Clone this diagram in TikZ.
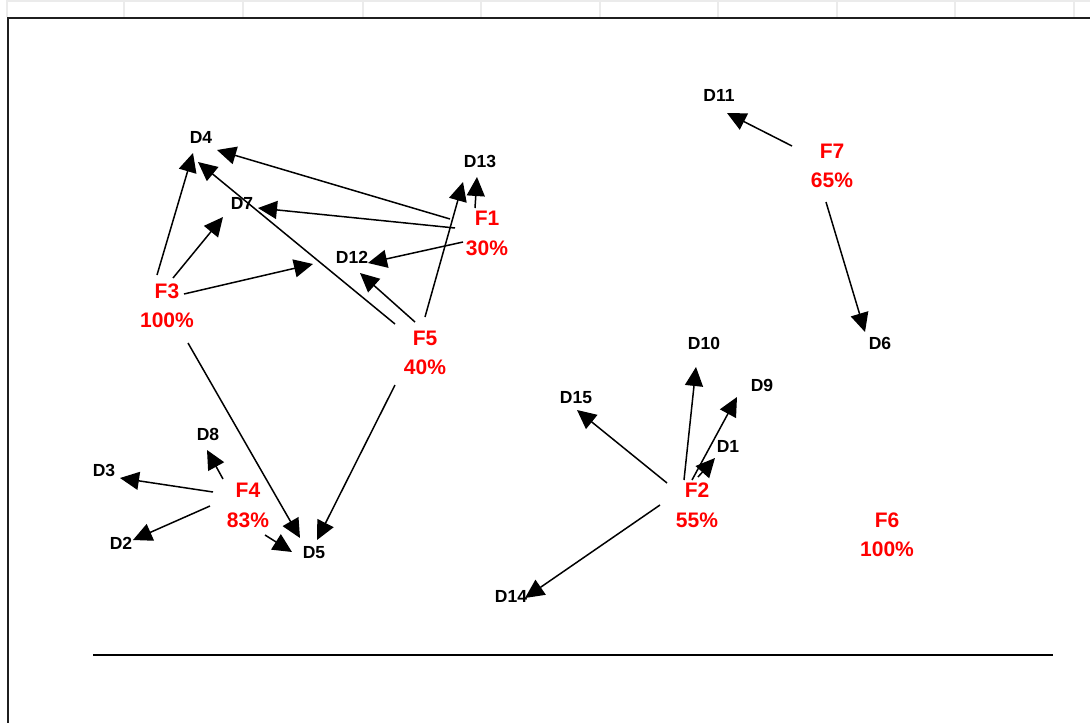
\documentclass[tikz,border=0pt]{standalone}
\usepackage{fontspec}
\setmainfont{Liberation Sans}
\usetikzlibrary{arrows.meta,calc}
\begin{document}
\begin{tikzpicture}[x=1pt,y=-1pt,
  dlab/.style={inner sep=0pt,font=\fontsize{17.5}{20}\selectfont\bfseries,text=black},
  flab/.style={inner sep=0pt,align=center,font=\fontsize{21}{29.5}\selectfont\bfseries,text=red},
  arr/.style={line width=1.5pt,-{Triangle[length=19pt,width=18pt]}},
  gridln/.style={line width=1.5pt,draw=black!8}]
\useasboundingbox (0,0) rectangle (1090,723);
% top grid
\draw[gridln] (7,1) -- (1090,1);
\foreach \gx in {7,124,243,363,481,600,718,837,955,1074}{\draw[gridln] (\gx,0) -- (\gx,17);}
% frame
\draw[line width=2.2pt,draw=black!88] (1090,18) -- (8,18) -- (8,723);
\draw[line width=1.3pt] (93,655) -- (1053,655);
% D nodes
\node[dlab] (d4) at (201,137) {D4};
\node[dlab] (d13) at (480,161) {D13};
\node[dlab] (d7) at (242,203) {D7};
\node[dlab] (d12) at (352,257) {D12};
\node[dlab] (d10) at (704,343) {D10};
\node[dlab] (d6) at (880,343) {D6};
\node[dlab] (d9) at (762,385) {D9};
\node[dlab] (d15) at (576,398) {D15};
\node[dlab] (d8) at (208,434) {D8};
\node[dlab] (d1) at (728,446) {D1};
\node[dlab] (d3) at (104,470) {D3};
\node[dlab] (d2) at (121,543) {D2};
\node[dlab] (d5) at (314,553) {D5};
\node[dlab] (d14) at (511,596) {D14};
\node[dlab] (d11) at (719,95) {D11};
% F nodes
\node[flab] (f1) at (487,233.5) {F1\\30\%};
\node[flab] (f3) at (167,306) {F3\\100\%};
\node[flab] (f5) at (425,353) {F5\\40\%};
\node[flab] (f4) at (248,505.5) {F4\\83\%};
\node[flab] (f2) at (697,505.5) {F2\\55\%};
\node[flab] (f6) at (887,535) {F6\\100\%};
\node[flab] (f7) at (832,166) {F7\\65\%};
% connectors
\draw[arr] ($(f3)+(-10,-31)$) -- ($(d4)+(-8,16)$);
\draw[arr] ($(f3)+(6,-28)$) -- ($(d7)+(-19,14)$);
\draw[arr] ($(f3)+(17,-12)$) -- ($(d12)+(-39,7)$);
\draw[arr] ($(f1)+(-37,-14.5)$) -- ($(d4)+(16,13)$);
\draw[arr] ($(f1)+(-32,-5.5)$) -- ($(d7)+(16,5)$);
\draw[arr] ($(f1)+(-24,8.5)$) -- ($(d12)+(16,6)$);
\draw[arr] ($(f1)+(-12,-25.5)$) -- ($(d13)+(-3,16)$);
\draw[arr] ($(f5)+(-30,-29)$) -- ($(d4)+(-3,25)$);
\draw[arr] ($(f5)+(-10,-31)$) -- ($(d12)+(8,16)$);
\draw[arr] ($(f5)+(0,-36)$) -- ($(d13)+(-17,21)$);
\draw[arr] ($(f3)+(21,37)$) -- ($(d5)+(-14,-15)$);
\draw[arr] ($(f5)+(-30,32)$) -- ($(d5)+(3,-13)$);
\draw[arr] ($(f4)+(-25,-26.5)$) -- ($(d8)+(-1,16)$);
\draw[arr] ($(f4)+(-35,-13.5)$) -- ($(d3)+(16,8)$);
\draw[arr] ($(f4)+(-38,0.5)$) -- ($(d2)+(12,-3)$);
\draw[arr] ($(f4)+(17,29.5)$) -- ($(d5)+(-22,-1)$);
\draw[arr] ($(f2)+(-13,-25.5)$) -- ($(d10)+(-8,24)$);
\draw[arr] ($(f2)+(-5,-25.5)$) -- ($(d9)+(-25,12)$);
\draw[arr] ($(f2)+(1,-28.5)$) -- ($(d1)+(-13,12)$);
\draw[arr] ($(f2)+(-30,-22.5)$) -- ($(d15)+(1,12)$);
\draw[arr] ($(f2)+(-37,-0.5)$) -- ($(d14)+(14,2)$);
\draw[arr] ($(f7)+(-40,-20)$) -- ($(d11)+(8,18)$);
\draw[arr] ($(f7)+(-6,36)$) -- ($(d6)+(-15,-11)$);
\end{tikzpicture}
\end{document}
